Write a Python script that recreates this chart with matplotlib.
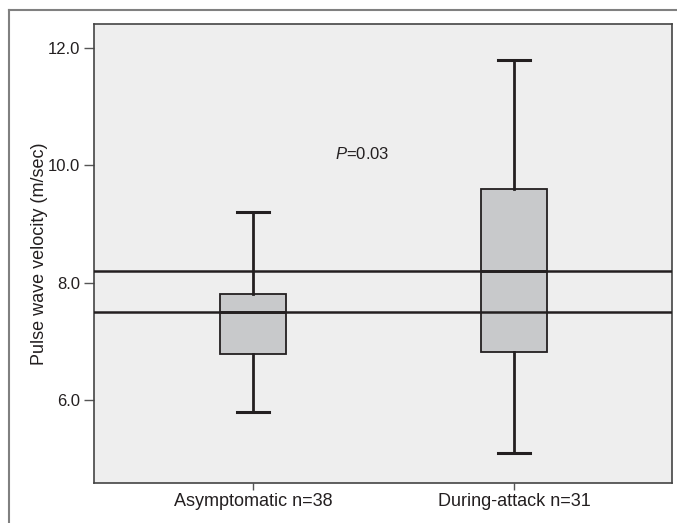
import matplotlib
matplotlib.use('Agg')
import matplotlib.pyplot as plt
from matplotlib.lines import Line2D

# group names and five-number summaries
groups = ['Asymptomatic n=38', 'During-attack n=31']
whisker_low = [5.8, 5.1]
q1 = [6.79, 6.83]
median = [7.5, 8.2]
q3 = [7.81, 9.6]
whisker_high = [9.2, 11.8]
ref_lines = [7.5, 8.2]
yticks = [6.0, 8.0, 10.0, 12.0]

plt.rcParams['font.family'] = ['Liberation Sans', 'DejaVu Sans']
plt.rcParams['mathtext.fontset'] = 'custom'
plt.rcParams['mathtext.rm'] = 'Liberation Sans'
plt.rcParams['mathtext.it'] = 'Liberation Sans:italic'

fig = plt.figure(figsize=(6.77, 5.23), dpi=100)
ax = fig.add_axes([94 / 677, 40 / 523, 577.7 / 677, 459 / 523])
ax.set_facecolor('#eeeeee')

stats = []
for i, g in enumerate(groups):
    stats.append({'label': g, 'whislo': whisker_low[i], 'q1': q1[i], 'med': median[i],
                  'q3': q3[i], 'whishi': whisker_high[i], 'fliers': []})

dark = '#231f20'
ax.bxp(stats, positions=[1, 2], widths=0.253, patch_artist=True, showfliers=False,
       boxprops=dict(facecolor='#c8c9cb', edgecolor=dark, linewidth=1.3),
       medianprops=dict(color=dark, linewidth=2),
       whiskerprops=dict(color=dark, linewidth=2),
       capprops=dict(color=dark, linewidth=2.2), capwidths=0.126)

for v in ref_lines:
    ax.axhline(v, color=dark, linewidth=1.8, zorder=3)

ax.text(1.42, 10.2, r'$P$=0.03', fontsize=12, ha='center', va='center', color=dark)

ax.set_xlim(0.391, 2.604)
ax.set_ylim(4.59, 12.41)
ax.set_yticks(yticks)
ax.set_yticklabels([f'{t:.1f}' for t in yticks])
ax.set_xticks([1, 2])
ax.set_xticklabels(groups)
ax.tick_params(axis='y', length=7, width=1, color='#555555', labelsize=12, pad=3, labelcolor=dark)
ax.tick_params(axis='x', length=5, width=1, color='#555555', labelsize=13, pad=2, labelcolor=dark)
ax.set_ylabel('Pulse wave velocity (m/sec)', fontsize=13, color=dark, labelpad=0)
for s in ax.spines.values():
    s.set_color('#444444')
    s.set_linewidth(1.2)

# outer frame of the figure
fig.add_artist(Line2D([8.5 / 677, 8.5 / 677], [0, 513 / 523], transform=fig.transFigure,
                      color='#808080', linewidth=1.5))
fig.add_artist(Line2D([8.5 / 677, 1], [513 / 523, 513 / 523], transform=fig.transFigure,
                      color='#808080', linewidth=1.5))

fig.savefig('out.png', dpi=100)
